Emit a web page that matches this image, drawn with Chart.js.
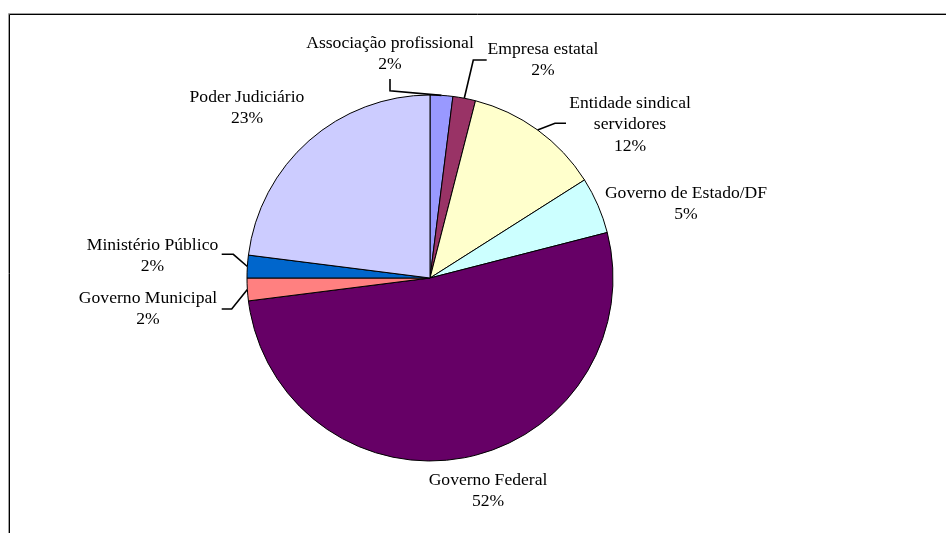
<!DOCTYPE html>
<html>
<head>
<meta charset="utf-8">
<script src="https://cdn.jsdelivr.net/npm/chart.js@4/dist/chart.umd.min.js"></script>
<style>
  html, body { margin: 0; padding: 0; background: #ffffff; }
  #wrap { width: 946px; height: 533px; position: relative; }
</style>
</head>
<body>
<div id="wrap"><canvas id="chart" width="946" height="533"></canvas></div>
<script>
// Categories (clockwise from 12 o'clock) and their shares in percent
const categories = [
  'Associação profissional',
  'Empresa estatal',
  'Entidade sindical servidores',
  'Governo de Estado/DF',
  'Governo Federal',
  'Governo Municipal',
  'Ministério Público',
  'Poder Judiciário'
];
const shares = [2, 2, 12, 5, 52, 2, 2, 23];
const sliceColors = ['#9999FF', '#993366', '#FFFFCC', '#CCFFFF', '#660066', '#FF8080', '#0066CC', '#CCCCFF'];

// How each category name is broken over lines in its label
const labelWrap = {
  'Entidade sindical servidores': ['Entidade sindical', 'servidores']
};

// Label placement, as offsets from the pie centre (first text line centre)
const labelOffsets = [
  [-40, -235],
  [113, -229],
  [200, -175],
  [256, -85],
  [58, 202],
  [-282, 20],
  [-277.5, -33],
  [-183, -181]
];
// Leader line bends (offsets from the pie centre), ending on the slice rim
const leaderBends = {
  0: [[-40, -199], [-40, -187.3]],
  1: [[56.7, -218], [43.3, -218]],
  2: [[136, -154.7], [125, -154.7]],
  5: [[-208.3, 31], [-198.3, 31]],
  6: [[-208.3, -23.7], [-196.7, -23.7]]
};

const FONT = '17.6px "Liberation Serif", "Times New Roman", serif';
const LINE_H = 21.5;

const framePlugin = {
  id: 'frame',
  beforeDraw(chart) {
    const ctx = chart.ctx;
    ctx.save();
    ctx.fillStyle = '#ffffff';
    ctx.fillRect(0, 0, chart.width, chart.height);
    ctx.lineWidth = 1;
    ctx.strokeStyle = '#a0a0a0';
    ctx.beginPath();
    ctx.moveTo(8.5, chart.height); ctx.lineTo(8.5, 13.5); ctx.lineTo(chart.width, 13.5);
    ctx.stroke();
    ctx.strokeStyle = '#000000';
    ctx.beginPath();
    ctx.moveTo(9.5, chart.height); ctx.lineTo(9.5, 14.5); ctx.lineTo(chart.width, 14.5);
    ctx.stroke();
    ctx.restore();
  }
};

const labelPlugin = {
  id: 'sliceLabels',
  afterDatasetsDraw(chart) {
    const ctx = chart.ctx;
    const meta = chart.getDatasetMeta(0);
    const first = meta.data[0];
    const cx = first.x, cy = first.y;
    ctx.save();
    ctx.font = FONT;
    ctx.fillStyle = '#000000';
    ctx.textAlign = 'center';
    ctx.textBaseline = 'middle';
    meta.data.forEach((arc, i) => {
      const name = categories[i];
      const lines = (labelWrap[name] || [name]).concat([shares[i] + '%']);
      const [dx, dy] = labelOffsets[i];
      lines.forEach((t, k) => ctx.fillText(t, cx + dx, cy + dy + k * LINE_H));

      const bends = leaderBends[i];
      if (bends) {
        const p = arc.getProps(['startAngle', 'endAngle', 'outerRadius'], true);
        const mid = (p.startAngle + p.endAngle) / 2;
        ctx.beginPath();
        ctx.lineWidth = 1.6;
        ctx.strokeStyle = '#000000';
        ctx.moveTo(cx + bends[0][0], cy + bends[0][1]);
        for (let k = 1; k < bends.length; k++) ctx.lineTo(cx + bends[k][0], cy + bends[k][1]);
        ctx.lineTo(cx + Math.cos(mid) * p.outerRadius, cy + Math.sin(mid) * p.outerRadius);
        ctx.stroke();
      }
    });
    ctx.restore();
  }
};

new Chart(document.getElementById('chart'), {
  type: 'pie',
  data: {
    labels: categories,
    datasets: [{
      data: shares,
      backgroundColor: sliceColors,
      borderColor: '#000000',
      borderWidth: 1,
      hoverOffset: 0,
      borderAlign: 'center'
    }]
  },
  options: {
    responsive: false,
    animation: false,
    rotation: 0,
    layout: { padding: { left: 0, right: 86, top: 94.5, bottom: 71.5 } },
    plugins: {
      legend: { display: false },
      tooltip: { enabled: false },
      title: { display: false }
    },
    events: []
  },
  plugins: [framePlugin, labelPlugin]
});
</script>
</body>
</html>
